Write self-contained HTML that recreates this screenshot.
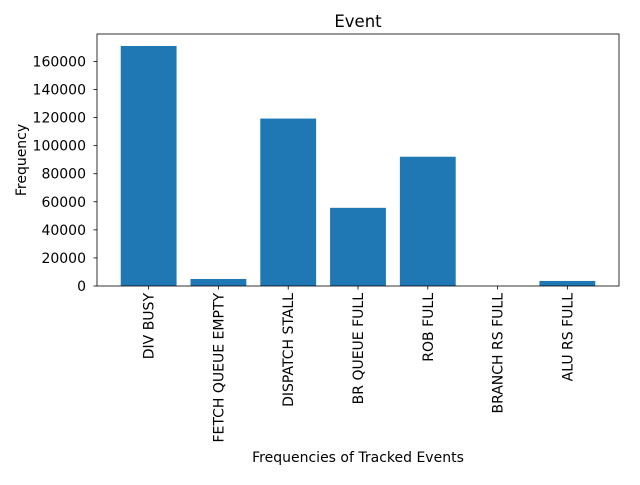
<!DOCTYPE html>
<html><head><meta charset="utf-8"><style>
body{margin:0;background:#fff}
svg text{font-family:"DejaVu Sans","Liberation Sans",sans-serif;fill:#000}
</style></head><body>
<svg id="chart" width="640" height="480" xmlns="http://www.w3.org/2000/svg">
<rect width="640" height="480" fill="#fff"/>
<g id="bars"></g><g id="axes"></g>
<text x="358" y="27" font-size="16.5" text-anchor="middle">Event</text>
<text x="358" y="462" font-size="14" text-anchor="middle">Frequencies of Tracked Events</text>
<text x="26" y="160" font-size="14" text-anchor="middle" transform="rotate(-90 26 160)">Frequency</text>
</svg>
<script>
const categories=["DIV BUSY","FETCH QUEUE EMPTY","DISPATCH STALL","BR QUEUE FULL","ROB FULL","BRANCH RS FULL","ALU RS FULL"];
const values=[171000,5000,119300,55700,92100,0,3600];
const yTicks=[0,20000,40000,60000,80000,100000,120000,140000,160000];
const NS="http://www.w3.org/2000/svg";
const L=97,R=619,T=34,B=286;
const ymax=Math.max(...values)*1.05;
const n=categories.length;
const xmin=-0.4-0.05*(n-1+0.8),xmax=n-1+0.4+0.05*(n-1+0.8);
const x=v=>L+(v-xmin)/(xmax-xmin)*(R-L);
const y=v=>B-v/ymax*(B-T);
function mk(t,a,p){const e=document.createElementNS(NS,t);for(const k in a)e.setAttribute(k,a[k]);p.appendChild(e);return e;}
const gb=document.getElementById('bars'),ga=document.getElementById('axes');
categories.forEach((c,i)=>{
 const r=mk('rect',{x:x(i-0.4),y:y(values[i]),width:x(i+0.4)-x(i-0.4),height:B-y(values[i]),fill:'#1f77b4'},gb);
 
 
 mk('line',{x1:x(i),x2:x(i),y1:B,y2:B+3.5,stroke:'#000','stroke-width':0.8},ga);
 const t=mk('text',{x:0,y:0,'font-size':14,'text-anchor':'end',transform:`translate(${x(i)+5},${B+7}) rotate(-90)`},ga);
 t.textContent=c;
 
 
});
yTicks.forEach(v=>{
 mk('line',{x1:L-3.5,x2:L,y1:y(v),y2:y(v),stroke:'#000','stroke-width':0.8},ga);
 const t=mk('text',{x:L-11,y:y(v)+5,'font-size':14,'text-anchor':'end'},ga);
 t.textContent=v;
 
 
});
const f=mk('rect',{x:L,y:T,width:R-L,height:B-T,fill:'none',stroke:'#000','stroke-width':0.8},ga);


</script>
</body></html>
